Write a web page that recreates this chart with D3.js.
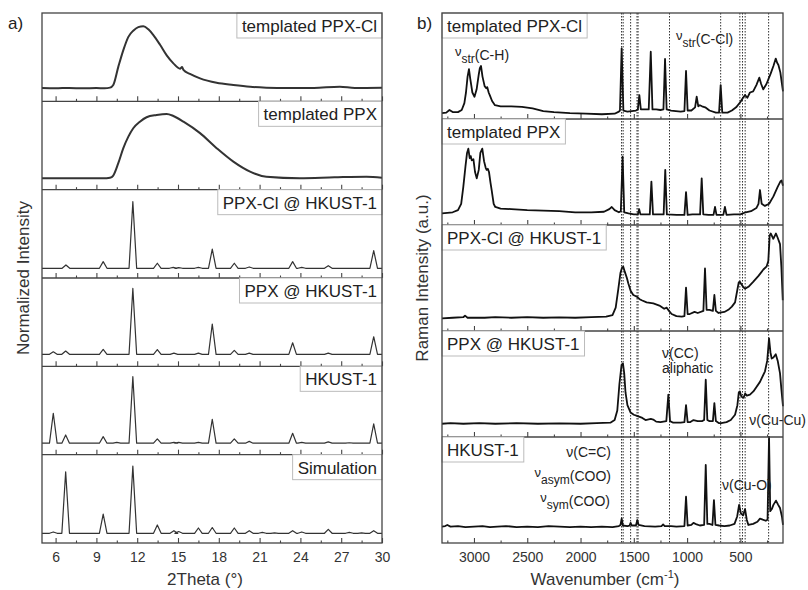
<!DOCTYPE html>
<html>
<head>
<meta charset="utf-8">
<script src="https://cdn.jsdelivr.net/npm/d3@7"></script>
<style>
    body{margin:0;background:#fff;}
    svg{font-family:Arial, "Liberation Sans", sans-serif;}
</style>
</head>
<body>
<div id="chart"></div>
<script>
//Panel a) - XRD, values are fraction of panel height
let xrdLabels = ["templated PPX-Cl", "templated PPX", "PPX-Cl @ HKUST-1", "PPX @ HKUST-1", "HKUST-1", "Simulation"];
let xrdTicks = [6, 9, 12, 15, 18, 21, 24, 27, 30];
let xrdMinorTicks = [7.5, 10.5, 13.5, 16.5, 19.5, 22.5, 25.5, 28.5];

let xrdTemplatedPPXCl = [[5,0.15],[6,0.148],[7,0.152],[8,0.147],[9,0.15],[9.6,0.148],[10,0.155],[10.24,0.185],[10.61,0.39],[10.98,0.58],[11.35,0.73],[11.71,0.8],[12.08,0.84],[12.45,0.85],[12.82,0.815],[13.19,0.75],[13.68,0.64],[14.17,0.52],[14.66,0.43],[15.15,0.37],[15.3,0.39],[15.4,0.355],[15.88,0.31],[16.62,0.26],[17.84,0.21],[19.07,0.185],[20.3,0.165],[21.5,0.155],[23,0.15],[25,0.152],[26.9,0.165],[28,0.152],[30,0.155]];
let xrdTemplatedPPX = [[5,0.13],[6.5,0.128],[8,0.13],[9.5,0.128],[10,0.135],[10.24,0.16],[10.61,0.3],[10.98,0.47],[11.35,0.6],[11.71,0.695],[12.2,0.77],[12.69,0.82],[13.43,0.845],[14.17,0.857],[14.66,0.834],[15.4,0.77],[16.62,0.64],[17.84,0.47],[19.07,0.317],[20.3,0.204],[21.5,0.147],[23.96,0.13],[26.5,0.14],[28.86,0.147],[30,0.135]];

let xrdBaselines = [0.11, 0.136, 0.13, 0.11];
let xrdPPXClHKUSTPeaks = [[6.76,0.148],[9.5,0.185],[11.68,0.864],[13.48,0.167],[14.65,0.12],[15.05,0.118],[16.5,0.12],[17.52,0.326],[19.14,0.167],[20.24,0.125],[23.43,0.185],[24.1,0.12],[26.05,0.14],[29.39,0.31]];
let xrdPPXHKUSTPeaks = [[5.83,0.165],[6.74,0.173],[9.5,0.192],[11.68,0.882],[13.48,0.19],[14.7,0.15],[16.5,0.15],[17.52,0.479],[19.14,0.18],[20.24,0.15],[23.43,0.267],[26.05,0.15],[29.39,0.335]];
let xrdHKUSTPeaks = [[5.83,0.469],[6.74,0.223],[9.5,0.204],[10.5,0.14],[11.68,0.883],[13.48,0.178],[14.7,0.14],[15.05,0.14],[16.5,0.14],[17.52,0.401],[19.14,0.178],[20.24,0.15],[23.43,0.242],[24.1,0.14],[26.05,0.145],[27.6,0.135],[29.39,0.348]];
let xrdSimulationPeaks = [[5.83,0.125],[6.74,0.805],[9.5,0.327],[11.68,0.87],[13.48,0.204],[14.7,0.14],[15.05,0.13],[16.5,0.17],[17.52,0.175],[19.14,0.17],[20.24,0.14],[21.2,0.12],[22.1,0.115],[23.43,0.14],[24.1,0.125],[26.05,0.155],[27.6,0.12],[28.5,0.115],[29.39,0.14]];

//Panel b) - Raman
let ramanLabels = ["templated PPX-Cl", "templated PPX", "PPX-Cl @ HKUST-1", "PPX @ HKUST-1", "HKUST-1"];
let ramanTicks = [3000, 2500, 2000, 1500, 1000, 500];
let ramanMinorTicks = [3250, 2750, 2250, 1750, 1250, 750, 250];
let ramanBands = [1615, 1600, 1530, 1470, 1460, 1165, 685, 505, 480, 455, 235];

let ramanTemplatedPPXCl = [[3300,0.055],[3260,0.06],[3230,0.085],[3200,0.065],[3150,0.065],[3115,0.085],[3090,0.15],[3075,0.25],[3060,0.4],[3047,0.47],[3035,0.38],[3015,0.25],[2995,0.21],[2975,0.28],[2955,0.42],[2945,0.48],[2934,0.5],[2920,0.4],[2900,0.31],[2885,0.29],[2875,0.3],[2862,0.25],[2850,0.22],[2830,0.17],[2803,0.13],[2750,0.12],[2650,0.12],[2550,0.115],[2450,0.1],[2350,0.075],[2250,0.065],[2100,0.055],[1950,0.05],[1800,0.045],[1680,0.05],[1640,0.07],[1630,0.08],[1614,0.667],[1598,0.08],[1560,0.07],[1480,0.08],[1462,0.09],[1448,0.226],[1434,0.09],[1400,0.09],[1360,0.09],[1341,0.635],[1325,0.09],[1290,0.09],[1250,0.085],[1222,0.09],[1207,0.566],[1192,0.09],[1150,0.08],[1060,0.07],[1025,0.075],[1010,0.453],[995,0.08],[960,0.08],[925,0.11],[910,0.21],[895,0.12],[880,0.13],[860,0.12],[830,0.11],[790,0.08],[730,0.06],[700,0.06],[685,0.32],[670,0.06],[620,0.06],[580,0.08],[540,0.11],[500,0.16],[475,0.2],[456,0.226],[435,0.2],[410,0.25],[380,0.26],[350,0.32],[322,0.39],[305,0.33],[285,0.28],[255,0.33],[215,0.43],[190,0.5],[168,0.57],[155,0.53],[143,0.51],[125,0.44],[100,0.26]];
let ramanTemplatedPPX = [[3300,0.11],[3250,0.115],[3200,0.12],[3150,0.14],[3120,0.2],[3100,0.36],[3080,0.55],[3065,0.68],[3053,0.72],[3040,0.63],[3030,0.65],[3021,0.61],[3005,0.62],[2990,0.5],[2974,0.44],[2955,0.52],[2940,0.68],[2922,0.72],[2905,0.6],[2890,0.54],[2881,0.52],[2870,0.53],[2859,0.5],[2845,0.4],[2834,0.33],[2815,0.2],[2800,0.17],[2750,0.155],[2650,0.15],[2500,0.14],[2350,0.135],[2200,0.13],[2050,0.12],[1900,0.12],[1780,0.125],[1730,0.15],[1707,0.17],[1680,0.14],[1640,0.12],[1622,0.13],[1605,0.645],[1590,0.12],[1550,0.11],[1500,0.1],[1462,0.1],[1450,0.15],[1438,0.1],[1400,0.1],[1350,0.1],[1335,0.41],[1320,0.1],[1280,0.1],[1220,0.1],[1205,0.52],[1190,0.1],[1100,0.095],[1025,0.095],[1010,0.31],[995,0.095],[950,0.1],[878,0.1],[863,0.44],[848,0.1],[800,0.095],[752,0.095],[738,0.17],[724,0.095],[660,0.095],[645,0.17],[630,0.095],[560,0.1],[500,0.1],[450,0.12],[400,0.13],[350,0.16],[330,0.2],[316,0.33],[300,0.2],[270,0.18],[230,0.2],[190,0.27],[150,0.36],[125,0.41],[113,0.42],[100,0.37]];
let ramanPPXClHKUST = [[3300,0.12],[3200,0.125],[3100,0.13],[3084,0.145],[3060,0.125],[2900,0.125],[2800,0.13],[2650,0.125],[2500,0.13],[2350,0.125],[2200,0.128],[2050,0.125],[1900,0.13],[1760,0.135],[1700,0.15],[1670,0.22],[1645,0.4],[1625,0.55],[1610,0.6],[1599,0.607],[1585,0.56],[1565,0.5],[1552,0.45],[1530,0.38],[1505,0.34],[1485,0.33],[1467,0.32],[1445,0.3],[1426,0.29],[1380,0.27],[1317,0.26],[1260,0.24],[1215,0.21],[1191,0.22],[1170,0.19],[1145,0.16],[1100,0.14],[1050,0.135],[1025,0.14],[1010,0.41],[995,0.16],[975,0.16],[930,0.18],[900,0.17],[847,0.19],[832,0.59],[817,0.2],[790,0.2],[758,0.19],[744,0.34],[730,0.19],[705,0.17],[650,0.18],[613,0.2],[580,0.23],[550,0.27],[530,0.38],[515,0.46],[505,0.465],[490,0.44],[470,0.41],[456,0.4],[420,0.42],[378,0.465],[330,0.52],[284,0.58],[253,0.61],[238,0.66],[225,0.9],[215,0.92],[205,0.9],[191,0.87],[176,0.9],[166,0.92],[150,0.88],[128,0.82],[115,0.6],[102,0.29]];
let ramanPPXHKUST = [[3300,0.125],[3220,0.13],[3100,0.125],[2950,0.13],[2800,0.125],[2600,0.13],[2400,0.125],[2200,0.128],[2000,0.125],[1850,0.13],[1720,0.135],[1680,0.16],[1655,0.25],[1635,0.5],[1615,0.68],[1602,0.695],[1590,0.6],[1578,0.42],[1560,0.3],[1530,0.23],[1500,0.21],[1470,0.2],[1420,0.18],[1390,0.16],[1340,0.17],[1318,0.165],[1290,0.145],[1250,0.14],[1195,0.15],[1176,0.4],[1160,0.15],[1130,0.135],[1060,0.135],[1025,0.14],[1010,0.3],[995,0.14],[973,0.14],[940,0.16],[900,0.15],[860,0.15],[840,0.16],[825,0.54],[810,0.16],[790,0.15],[758,0.15],[744,0.32],[730,0.15],[700,0.13],[680,0.13],[630,0.14],[590,0.16],[550,0.21],[528,0.3],[515,0.42],[505,0.43],[490,0.38],[470,0.37],[455,0.41],[440,0.39],[410,0.4],[378,0.43],[316,0.52],[269,0.62],[248,0.72],[231,0.93],[218,0.8],[206,0.74],[190,0.75],[168,0.78],[150,0.72],[128,0.6],[115,0.45],[100,0.29]];
let ramanHKUST = [[3300,0.155],[3270,0.16],[3250,0.17],[3220,0.155],[3150,0.16],[3080,0.15],[3000,0.155],[2920,0.16],[2850,0.15],[2780,0.155],[2700,0.16],[2600,0.15],[2500,0.155],[2400,0.15],[2300,0.16],[2200,0.155],[2100,0.15],[2000,0.155],[1900,0.15],[1800,0.155],[1700,0.15],[1640,0.16],[1625,0.17],[1614,0.23],[1603,0.165],[1560,0.16],[1540,0.165],[1530,0.19],[1520,0.165],[1480,0.165],[1467,0.217],[1455,0.17],[1400,0.16],[1300,0.155],[1240,0.16],[1225,0.175],[1210,0.16],[1150,0.16],[1100,0.155],[1025,0.16],[1010,0.437],[995,0.165],[960,0.17],[940,0.19],[910,0.175],[880,0.165],[840,0.17],[825,0.736],[810,0.18],[790,0.18],[762,0.17],[748,0.405],[734,0.17],[700,0.165],[650,0.16],[600,0.165],[555,0.18],[530,0.25],[512,0.36],[495,0.28],[475,0.26],[456,0.32],[440,0.22],[425,0.17],[380,0.18],[340,0.2],[316,0.23],[290,0.22],[262,0.21],[245,0.22],[231,1.0],[220,0.3],[205,0.32],[190,0.36],[166,0.4],[145,0.36],[128,0.33],[110,0.25],[100,0.17]];

let PEAK_HALF_WIDTH = 0.28;
let FRAME_COLOR = "#444";

function peakSeries(base, peaks){
    let points = [[5, base]];
    peaks.forEach(function(p){
        points.push([p[0] - PEAK_HALF_WIDTH, base], [p[0], p[1]], [p[0] + PEAK_HALF_WIDTH, base]);
    });
    points.push([30, base]);
    return points;
}

let xrdSeries = [
    xrdTemplatedPPXCl,
    xrdTemplatedPPX,
    peakSeries(xrdBaselines[0], xrdPPXClHKUSTPeaks),
    peakSeries(xrdBaselines[1], xrdPPXHKUSTPeaks),
    peakSeries(xrdBaselines[2], xrdHKUSTPeaks),
    peakSeries(xrdBaselines[3], xrdSimulationPeaks)
];
let ramanSeries = [ramanTemplatedPPXCl, ramanTemplatedPPX, ramanPPXClHKUST, ramanPPXHKUST, ramanHKUST];

let svg = d3.select("#chart")
    .append("svg")
    .attr("width", 808)
    .attr("height", 590);

function panelY(frame, count, index){
    let h = (frame.bottom - frame.top) / count;
    let top = frame.top + index * h;
    return d3.scaleLinear().domain([0, 1]).range([top + h, top]);
}

function renderStack(frame, x, series, labels, options){
    let root = svg.append("g");
    let count = series.length;

    if(options.bands){
        root.selectAll(".band")
            .data(options.bands)
            .enter()
            .append("line")
            .attr("class", "band")
            .attr("x1", function(d){ return x(d); })
            .attr("x2", function(d){ return x(d); })
            .attr("y1", frame.top)
            .attr("y2", frame.bottom)
            .attr("stroke", "#333")
            .attr("stroke-width", 1)
            .attr("stroke-dasharray", "1.5,1.5");
    }

    series.forEach(function(points, index){
        let y = panelY(frame, count, index);
        let bottom = y.range()[0];
        let last = index === count - 1;

        //ticks pointing into the panel
        let major = root.append("g")
            .attr("transform", "translate(0," + bottom + ")")
            .call(d3.axisBottom(x)
                .tickValues(options.ticks)
                .tickSize(-5)
                .tickPadding(9)
                .tickFormat(last ? d3.format("d") : ""));
        major.select(".domain").remove();
        major.selectAll("line").attr("stroke", FRAME_COLOR).attr("stroke-width", 1.1);
        major.selectAll("text")
            .attr("fill", "#333")
            .style("font-size", "14px")
            .style("font-family", "Arial, 'Liberation Sans', sans-serif");

        let minor = root.append("g")
            .attr("transform", "translate(0," + bottom + ")")
            .call(d3.axisBottom(x).tickValues(options.minorTicks).tickSize(-2.5).tickFormat(""));
        minor.select(".domain").remove();
        minor.selectAll("line").attr("stroke", FRAME_COLOR).attr("stroke-width", 1.1);

        let line = d3.line()
            .x(function(d){ return x(d[0]); })
            .y(function(d){ return y(d[1]); })
            .curve(options.smooth[index] ? d3.curveMonotoneX : d3.curveLinear);

        root.append("path")
            .datum(points)
            .attr("d", line)
            .attr("fill", "none")
            .attr("stroke", options.lineColor)
            .attr("stroke-width", options.smooth[index] ? 2 : options.lineWidth)
            .attr("stroke-linejoin", "round");

        if(index > 0){
            root.append("line")
                .attr("x1", frame.left).attr("x2", frame.right)
                .attr("y1", y.range()[1]).attr("y2", y.range()[1])
                .attr("stroke", FRAME_COLOR)
                .attr("stroke-width", 1.3);
        }

        //label box
        let box = root.append("g");
        let rect = box.append("rect");
        let text = box.append("text")
            .attr("y", y.range()[1] + 19)
            .attr("fill", "#222")
            .style("font-size", "17px")
            .text(labels[index]);
        let width = text.node().getComputedTextLength() + 10;
        let bx = options.boxRight ? frame.right - width : frame.left;
        text.attr("x", bx + 5);
        rect.attr("x", bx)
            .attr("y", y.range()[1])
            .attr("width", width)
            .attr("height", 25)
            .attr("fill", "#fff")
            .attr("stroke", "#bbb")
            .attr("stroke-width", 1);
    });

    root.append("rect")
        .attr("x", frame.left)
        .attr("y", frame.top)
        .attr("width", frame.right - frame.left)
        .attr("height", frame.bottom - frame.top)
        .attr("fill", "none")
        .attr("stroke", FRAME_COLOR)
        .attr("stroke-width", 1.3);

    return root;
}

let xrdFrame = {left: 42, right: 382, top: 13, bottom: 543};
let ramanFrame = {left: 442, right: 783, top: 13, bottom: 543};

let xXrd = d3.scaleLinear().domain([5, 30]).range([xrdFrame.left, xrdFrame.right]);
let xRaman = d3.scaleLinear().domain([3300, 100]).range([ramanFrame.left, ramanFrame.right]);

renderStack(xrdFrame, xXrd, xrdSeries, xrdLabels, {
    ticks: xrdTicks,
    minorTicks: xrdMinorTicks,
    smooth: [true, true, false, false, false, false],
    lineColor: "#333",
    lineWidth: 1.2,
    boxRight: true
});

renderStack(ramanFrame, xRaman, ramanSeries, ramanLabels, {
    ticks: ramanTicks,
    minorTicks: ramanMinorTicks,
    bands: ramanBands,
    smooth: [false, false, false, false, false],
    lineColor: "#111",
    lineWidth: 1.8,
    boxRight: false
});

//Titles
svg.append("text").attr("x", 8).attr("y", 29).style("font-size", "17px").attr("fill", "#222").text("a)");
svg.append("text").attr("x", 417).attr("y", 29).style("font-size", "17px").attr("fill", "#222").text("b)");

svg.append("text")
    .attr("x", 205).attr("y", 585)
    .attr("text-anchor", "middle")
    .style("font-size", "17px").attr("fill", "#333")
    .text("2Theta (°)");

let wn = svg.append("text")
    .attr("x", 605).attr("y", 585)
    .attr("text-anchor", "middle")
    .style("font-size", "17px").attr("fill", "#333");
wn.append("tspan").text("Wavenumber (cm");
wn.append("tspan").attr("dy", -7).style("font-size", "11px").text("-1");
wn.append("tspan").attr("dy", 7).text(")");

svg.append("text")
    .attr("transform", "translate(29,278) rotate(-90)")
    .attr("text-anchor", "middle")
    .style("font-size", "17px").attr("fill", "#333")
    .text("Normalized Intensity");

svg.append("text")
    .attr("transform", "translate(428,278) rotate(-90)")
    .attr("text-anchor", "middle")
    .style("font-size", "17px").attr("fill", "#333")
    .text("Raman Intensity (a.u.)");

//Band annotations
let notes = [
    {x: 455, y: 60, sub: "str", rest: "(C-H)", anchor: "start"},
    {x: 676, y: 44, sub: "str", rest: "(C-Cl)", anchor: "start"},
    {x: 662, y: 358, sub: "", rest: "(CC)", anchor: "start"},
    {x: 806, y: 425, sub: "", rest: "(Cu-Cu)", anchor: "end"},
    {x: 611, y: 457, sub: "", rest: "(C=C)", anchor: "end"},
    {x: 611, y: 481, sub: "asym", rest: "(COO)", anchor: "end"},
    {x: 610, y: 506, sub: "sym", rest: "(COO)", anchor: "end"},
    {x: 722, y: 490, sub: "", rest: "(Cu-O)", anchor: "start"}
];

notes.forEach(function(n){
    let t = svg.append("text")
        .attr("x", n.x).attr("y", n.y)
        .attr("text-anchor", n.anchor)
        .attr("fill", "#222")
        .style("font-size", "14px");
    if(n.sub){
        t.append("tspan").attr("dy", -4).style("font-size", "13px").text("ν");
        t.append("tspan").attr("dy", 7).style("font-size", "12px").text(n.sub);
        t.append("tspan").attr("dy", -3).text(n.rest);
    }
    else{
        t.append("tspan").text("ν" + n.rest);
    }
});

svg.append("text")
    .attr("x", 662).attr("y", 373)
    .attr("fill", "#222")
    .style("font-size", "14px")
    .text("aliphatic");
</script>
</body>
</html>
